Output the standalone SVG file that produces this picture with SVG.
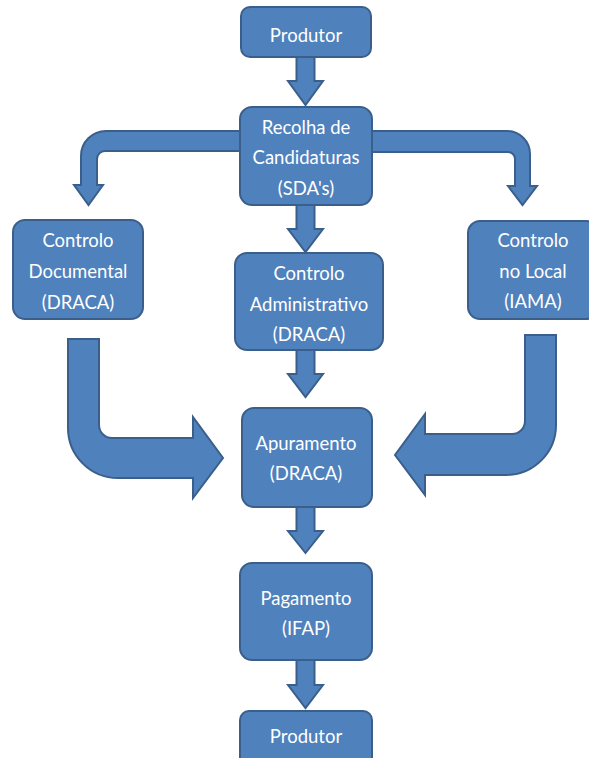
<svg xmlns="http://www.w3.org/2000/svg" width="589" height="758" viewBox="0 0 589 758">
<style>
.shape{fill:#4F81BD;stroke:#3A5F8B;stroke-width:2;stroke-linejoin:miter}
.box{fill:#4F81BD;stroke:#3A5F8B;stroke-width:2}
.t{font-family:Lato,"Open Sans","Liberation Sans",sans-serif;font-size:18.5px;fill:#FFFFFF;text-anchor:middle}
</style>
<rect width="589" height="758" fill="#FFFFFF"/>
<g id="connectors">
<polygon class="shape" points="296.5,57 314.5,57 314.5,81 323,81 305.5,105 288,81 296.5,81"/>
<polygon class="shape" points="296.5,205 314.5,205 314.5,229 323,229 305.5,252 288,229 296.5,229"/>
<polygon class="shape" points="296.5,350 314.5,350 314.5,374 323,374 305.5,397 288,374 296.5,374"/>
<polygon class="shape" points="296.5,507 314.5,507 314.5,531 323,531 305.5,553 288,531 296.5,531"/>
<polygon class="shape" points="296.5,660 314.5,660 314.5,685 323,685 305.5,708 288,685 296.5,685"/>
<path class="shape" d="M240,131 L106,131 A25,25 0 0 0 81,156 L81,185 L74,185 L88.5,205 L103,185 L97,185 L97,159 A8,8 0 0 1 105,151 L240,151 Z"/>
<path class="shape" d="M370,131 L507,131 A23,23 0 0 1 530,154 L530,186 L537,186 L522.5,205 L508,186 L515,186 L515,159 A7,7 0 0 0 508,152 L370,152 Z"/>
<path class="shape" d="M68,339 L99,339 L99,425 A13,13 0 0 0 112,438 L193,438 L193,417 L223,458 L193,498 L193,478 L118,478 A50,50 0 0 1 68,428 Z"/>
<path class="shape" d="M525,335 L556,335 L556,425 A50,50 0 0 1 506,475 L425,475 L425,495 L395,455 L425,414 L425,434 L512,434 A13,13 0 0 0 525,421 Z"/>
</g>
<g id="produtor-top">
<rect class="box" x="241" y="7" width="130" height="50" rx="9"/>
<text class="t" x="306" y="42">Produtor</text>
</g>
<g id="recolha">
<rect class="box" x="240" y="107" width="132" height="98" rx="12"/>
<text class="t" x="306" y="134">Recolha de</text>
<text class="t" x="306" y="164">Candidaturas</text>
<text class="t" x="306" y="195">(SDA's)</text>
</g>
<g id="controlo-documental">
<rect class="box" x="13" y="220" width="130" height="99" rx="12"/>
<text class="t" x="78" y="247">Controlo</text>
<text class="t" x="78" y="278">Documental</text>
<text class="t" x="78" y="309">(DRACA)</text>
</g>
<g id="controlo-administrativo">
<rect class="box" x="235" y="253" width="148" height="97" rx="12"/>
<text class="t" x="309" y="280">Controlo</text>
<text class="t" x="309" y="311">Administrativo</text>
<text class="t" x="309" y="341">(DRACA)</text>
</g>
<g id="controlo-local">
<rect class="box" x="468" y="221" width="130" height="98" rx="12"/>
<text class="t" x="533" y="247">Controlo</text>
<text class="t" x="533" y="278">no Local</text>
<text class="t" x="533" y="308">(IAMA)</text>
</g>
<g id="apuramento">
<rect class="box" x="242" y="408" width="130" height="99" rx="12"/>
<text class="t" x="306" y="450">Apuramento</text>
<text class="t" x="306" y="480">(DRACA)</text>
</g>
<g id="pagamento">
<rect class="box" x="240" y="563" width="132" height="97" rx="12"/>
<text class="t" x="306" y="605">Pagamento</text>
<text class="t" x="306" y="635">(IFAP)</text>
</g>
<g id="produtor-bottom">
<rect class="box" x="240" y="711" width="132" height="60" rx="9"/>
<text class="t" x="306" y="743">Produtor</text>
</g>
</svg>
